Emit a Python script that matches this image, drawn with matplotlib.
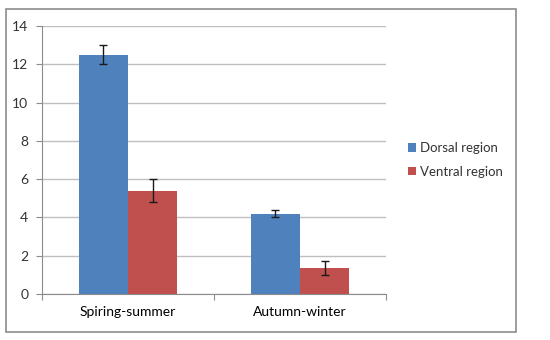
import matplotlib
matplotlib.use('Agg')
import matplotlib.pyplot as plt
import numpy as np
from matplotlib.patches import Rectangle

plt.rcParams['font.family'] = ['Lato', 'DejaVu Sans']

categories = ['Spiring-summer', 'Autumn-winter']
dorsal = [12.5, 4.2]
dorsal_err = [0.5, 0.2]
ventral = [5.4, 1.35]
ventral_err = [0.6, 0.35]

fig = plt.figure(figsize=(5.5, 3.4), dpi=100)
ax = fig.add_axes([0.0764, 0.1353, 0.6254, 0.7882])

# outer frame of the chart
fig.patches.append(Rectangle((6/550, 1-332/340), 510/550, 323/340, transform=fig.transFigure,
                             fill=False, edgecolor='#8c8c8c', linewidth=1.2))

x = np.arange(len(categories))
w = 1/3.5
ekw = dict(ecolor='#1a1a1a', elinewidth=1, capsize=3, capthick=1)
ax.bar(x - w/2, dorsal, w, yerr=dorsal_err, color='#4f81bd', label='Dorsal region', error_kw=ekw, zorder=3)
ax.bar(x + w/2, ventral, w, yerr=ventral_err, color='#c0504d', label='Ventral region', error_kw=ekw, zorder=3)

ax.set_xlim(-0.5, 1.5)
ax.set_ylim(0, 14)
ax.set_yticks(range(0, 15, 2))
ax.yaxis.grid(True, color='#bfbfbf', linewidth=1)
ax.set_axisbelow(True)
ax.set_xticks([-0.5, 0.5, 1.5])
ax.set_xticklabels([])
ax.set_xticks(x, minor=True)
ax.set_xticklabels(categories, minor=True)
ax.tick_params(axis='x', which='minor', length=0, pad=9)
ax.tick_params(axis='x', which='major', length=4, color='#8c8c8c', direction='out')
ax.tick_params(axis='y', length=4, color='#8c8c8c', pad=6)
ax.tick_params(labelsize=10, labelcolor='#333333')
for s in ['top', 'right']:
    ax.spines[s].set_visible(False)
for s in ['left', 'bottom']:
    ax.spines[s].set_color('#8c8c8c')

leg = ax.legend(loc='center left', bbox_to_anchor=(1.03, 0.5), frameon=False, fontsize=9.5,
                handlelength=0.6, handleheight=0.6, handletextpad=0.3, labelspacing=0.9)
for t in leg.get_texts():
    t.set_color('#333333')

fig.savefig('out.png', dpi=100)
